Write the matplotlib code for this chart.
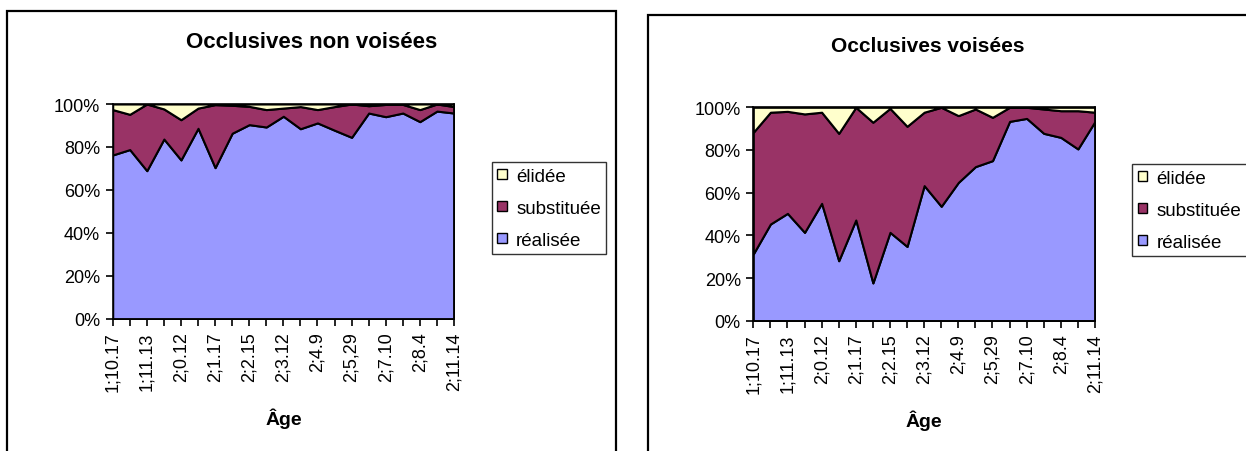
import matplotlib
matplotlib.use('Agg')
import matplotlib.pyplot as plt
from matplotlib.patches import Rectangle

plt.rcParams['font.family'] = ['Liberation Sans', 'DejaVu Sans']

# age labels shown under every second category (21 sessions)
age_labels = ['1;10.17', '1;11.13', '2;0.12', '2;1.17', '2;2.15', '2;3.12',
              '2;4.9', '2;5,29', '2;7.10', '2;8.4', '2;11.14']
n_sessions = 21

series_names = ['réalisée', 'substituée', 'élidée']
colors = ['#9999FF', '#993366', '#FFFFCC']

# Occlusives non voisées (percent)
nv_realisee = [76.3, 78.8, 69.0, 83.7, 74.0, 88.7, 70.4, 86.4, 90.4, 89.3, 94.3,
               88.5, 91.2, 87.8, 84.5, 95.8, 94.1, 95.8, 91.8, 96.7, 95.8]
nv_substituee = [21.1, 16.4, 31.0, 14.0, 18.7, 9.4, 29.3, 13.0, 8.5, 8.1, 3.8,
                 10.3, 6.2, 11.0, 15.5, 3.4, 5.7, 4.0, 5.6, 3.3, 3.0]
nv_elidee = [2.6, 4.8, 0.0, 2.3, 7.3, 1.9, 0.3, 0.6, 1.1, 2.6, 1.9,
             1.2, 2.6, 1.2, 0.0, 0.8, 0.2, 0.2, 2.6, 0.0, 1.2]

# Occlusives voisées (percent)
v_realisee = [31.3, 45.3, 50.3, 41.4, 55.0, 28.1, 47.2, 17.7, 41.4, 34.8, 63.3,
              53.6, 64.8, 72.2, 75.0, 93.4, 94.8, 87.8, 85.9, 80.5, 93.4]
v_substituee = [57.0, 52.4, 47.8, 55.5, 42.7, 59.7, 52.8, 75.3, 58.1, 56.3, 34.4,
                46.4, 31.3, 27.0, 20.3, 6.6, 5.2, 11.4, 12.5, 17.9, 4.3]
v_elidee = [11.7, 2.3, 1.9, 3.1, 2.3, 12.2, 0.0, 7.0, 0.5, 8.9, 2.3,
            0.0, 3.9, 0.8, 4.7, 0.0, 0.0, 0.8, 1.6, 1.6, 2.3]

W, H = 1246, 452
fig = plt.figure(figsize=(W / 100, H / 100), dpi=100)

# chart frames
fig.patches.append(Rectangle((7 / W, -0.1), 609 / W, 1.1 - 12 / H, transform=fig.transFigure,
                             fill=False, edgecolor='black', lw=1.6))
fig.patches.append(Rectangle((648 / W, -0.1), 0.6, 1.1 - 16 / H, transform=fig.transFigure,
                             fill=False, edgecolor='black', lw=1.6))


def draw(rect, title, title_xy, title_size, data, legend_xy):
    ax = fig.add_axes(rect)
    x = list(range(n_sessions))
    polys = ax.stackplot(x, *data, colors=colors, labels=series_names,
                         edgecolor='black', linewidth=1.5)
    ax.set_xlim(0, n_sessions - 1)
    ax.set_ylim(0, 100)
    ax.set_yticks(range(0, 101, 20))
    ax.set_yticklabels([f'{v}%' for v in range(0, 101, 20)], fontsize=13)
    ax.set_xticks(x)
    labels = [''] * n_sessions
    labels[::2] = age_labels
    ax.set_xticklabels(labels, rotation=90, fontsize=13)
    ax.tick_params(direction='out', length=5, width=1.2, colors='black', pad=4)
    for s in ax.spines.values():
        s.set_linewidth(1.2)
    ax.set_xlabel('Âge', fontsize=14, fontweight='bold', labelpad=12)
    fig.text(title_xy[0], title_xy[1], title, ha='center', va='center',
             fontsize=title_size, fontweight='bold')
    handles = polys[::-1]
    leg = fig.legend(handles, series_names[::-1], loc='upper left',
                     bbox_to_anchor=legend_xy, bbox_transform=fig.transFigure,
                     fontsize=13.5, frameon=True, fancybox=False,
                     handlelength=0.5, handleheight=0.5, handletextpad=0.5,
                     labelspacing=0.8, borderpad=0.3, borderaxespad=0)
    leg.get_frame().set_edgecolor('black')
    leg.get_frame().set_linewidth(1)
    for h in leg.legend_handles:
        h.set_linewidth(1)
    return ax


draw([112.7 / W, 1 - 320 / H, 341.3 / W, 215 / H], 'Occlusives non voisées',
     (312 / W, 1 - 42 / H), 16, [nv_realisee, nv_substituee, nv_elidee],
     (491.7 / W, 1 - 163 / H))
draw([753.3 / W, 1 - 321.7 / H, 341.7 / W, 213.4 / H], 'Occlusives voisées',
     (928 / W, 1 - 47 / H), 15, [v_realisee, v_substituee, v_elidee],
     (1132 / W, 1 - 165 / H))

plt.savefig('out.png', dpi=100)
